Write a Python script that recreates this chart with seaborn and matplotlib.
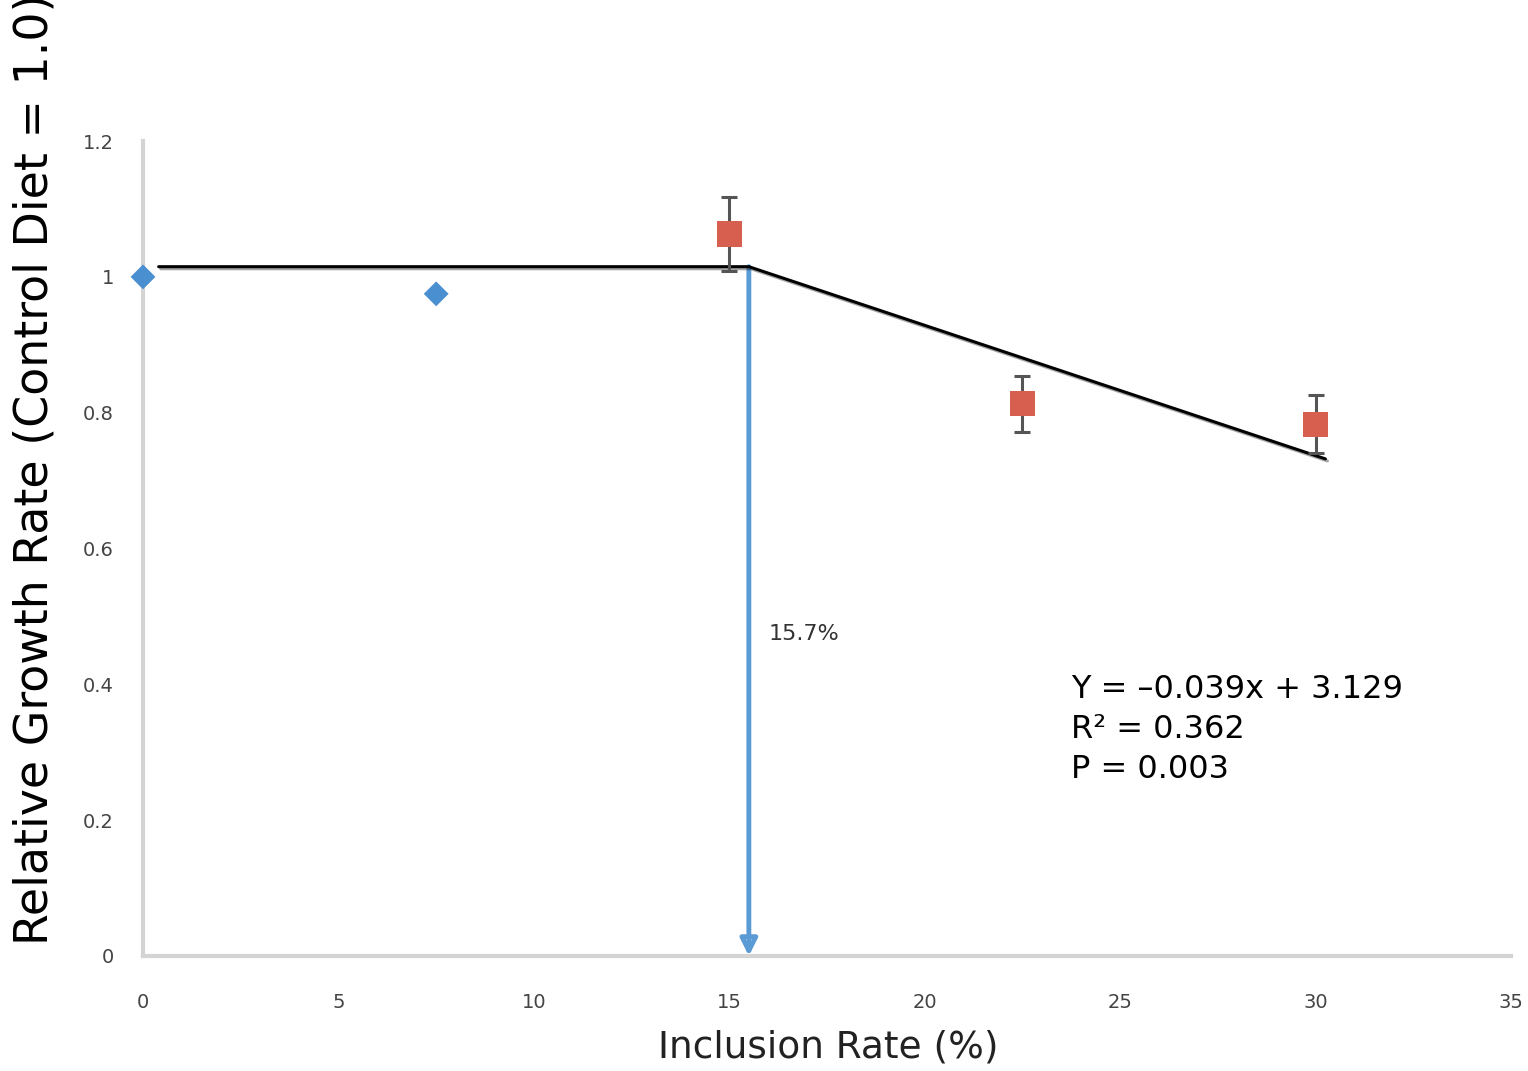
import matplotlib
matplotlib.use("Agg")
import matplotlib.pyplot as plt
import matplotlib.patheffects as pe
import seaborn as sns
import pandas as pd

# ---- data ----
ctrl_x = [0, 7.5]
ctrl_y = [1.0, 0.975]
trt_x = [15, 22.5, 30]
trt_y = [1.063, 0.813, 0.783]
trt_err = [0.055, 0.041, 0.043]
fit_x = [0.4, 15.5, 30.25]
fit_y = [1.015, 1.015, 0.732]
break_x = 15.5
break_label = "15.7%"
x_ticks = [0, 5, 10, 15, 20, 25, 30, 35]
y_ticks = [0, 0.2, 0.4, 0.6, 0.8, 1, 1.2]
y_tick_labels = ["0", "0.2", "0.4", "0.6", "0.8", "1", "1.2"]
eq_lines = ["Y = \u20130.039x + 3.129", "R\u00b2 = 0.362", "P = 0.003"]

sns.set_style("white")
plt.rcParams['font.family'] = ['DejaVu Sans']

fig = plt.figure(figsize=(15.28, 10.71), dpi=100)
ax = fig.add_axes([0.0936, 0.1074, 0.8953, 0.7609])

# fitted broken-line
fit_df = pd.DataFrame({"x": fit_x, "y": fit_y})
sns.lineplot(data=fit_df, x="x", y="y", ax=ax, color="black", linewidth=2.2,
             sort=False, estimator=None, zorder=3,
             path_effects=[pe.SimpleLineShadow(offset=(1.5, -1.5), alpha=0.35),
                           pe.Normal()])

# arrow at breakpoint
ax.annotate("", xy=(break_x, 0.0), xytext=(break_x, fit_y[1]),
            arrowprops=dict(arrowstyle="-|>,head_width=0.5,head_length=1.0",
                            color="#5b9bd5", lw=3.5, shrinkA=0, shrinkB=0,
                            fill=False),
            zorder=2)
ax.text(break_x + 0.5, 0.474, break_label, fontsize=16, color="#333333",
        va="center", ha="left")

# error bars for treatment points
ax.errorbar(trt_x, trt_y, yerr=trt_err, fmt="none", ecolor="#555555",
            elinewidth=2.2, capsize=6, capthick=2.2, zorder=4)

# points
ctrl_df = pd.DataFrame({"x": ctrl_x, "y": ctrl_y})
trt_df = pd.DataFrame({"x": trt_x, "y": trt_y})
sns.scatterplot(data=ctrl_df, x="x", y="y", ax=ax, marker="D", s=160,
                color="#4a8fd0", edgecolor="none", zorder=5, clip_on=False)
sns.scatterplot(data=trt_df, x="x", y="y", ax=ax, marker="s", s=330,
                color="#d65f50", edgecolor="none", zorder=5, clip_on=False)

# equation text
for i, line in enumerate(eq_lines):
    ax.text(23.75, 0.392 - i * 0.059, line, fontsize=23, color="black",
            va="center", ha="left")

# axes styling
ax.set_xlim(0, 35)
ax.set_ylim(0, 1.2)
ax.set_xticks(x_ticks)
ax.set_xticklabels([str(t) for t in x_ticks])
ax.set_yticks(y_ticks)
ax.set_yticklabels(y_tick_labels)
for s in ["top", "right"]:
    ax.spines[s].set_visible(False)
for s in ["left", "bottom"]:
    ax.spines[s].set_color("#d4d4d4")
    ax.spines[s].set_linewidth(3)
ax.tick_params(axis="both", which="both", length=5, width=1.5, color="#bbbbbb",
               labelsize=14, labelcolor="#444444", direction="out")
ax.tick_params(axis="x", pad=22)
ax.tick_params(axis="y", pad=16)
ax.set_xlabel("")
ax.set_ylabel("")

fig.text(0.542, 0.0224, "Inclusion Rate (%)", fontsize=27, ha="center",
         va="center", color="#222222")
fig.text(0.023, 0.118, "Relative Growth Rate (Control Diet = 1.0)", fontsize=33,
         rotation=90, ha="center", va="bottom", color="black")

fig.savefig("out.png", dpi=100)
